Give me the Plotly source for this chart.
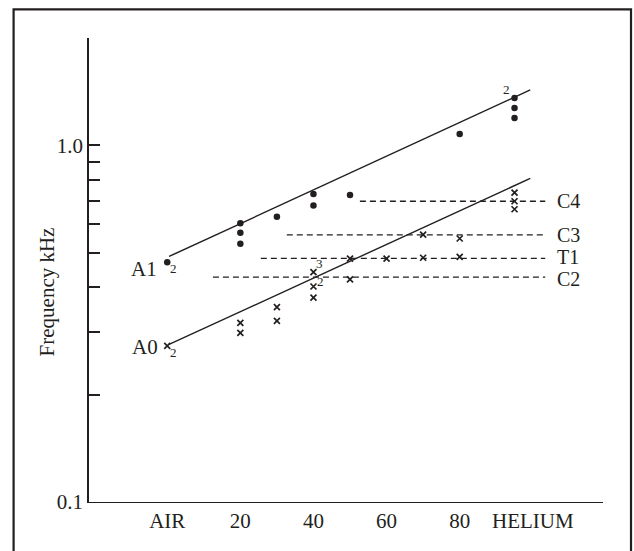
import math
import plotly.graph_objects as go

# ---- data ----
# A1 mode (dots): % helium vs frequency (kHz)
a1_x = [0, 20, 20, 20, 30, 40, 40, 50, 80, 95, 95, 95]
a1_f = [0.470, 0.605, 0.569, 0.530, 0.631, 0.731, 0.678, 0.726, 1.076, 1.358, 1.273, 1.193]

# A0 mode (crosses)
a0_x = [0, 20, 20, 30, 30, 40, 40, 40, 50, 50, 60, 70, 70, 80, 80, 95, 95, 95]
a0_f = [0.274, 0.318, 0.298, 0.352, 0.322, 0.441, 0.402, 0.374, 0.481, 0.421,
        0.481, 0.484, 0.562, 0.487, 0.548, 0.737, 0.697, 0.662]

# fitted lines (end points)
a1_line_x = [0.5, 99.3]
a1_line_f = [0.488, 1.430]
a0_line_x = [0.5, 99.3]
a0_line_f = [0.2765, 0.808]

# horizontal resonance levels
res_names = ["C4", "C3", "T1", "C2"]
res_start = [52.7, 32.7, 25.6, 12.5]
res_end = [103.4, 103.4, 103.4, 103.4]
res_f = [0.697, 0.561, 0.482, 0.427]
res_shift = [0, 0, 1.5, -1.5]

# multiplicity labels on points
mult_text = ["2", "2", "3", "2", "2"]
mult_x = [1.8, 1.6, 41.6, 42.0, 92.9]
mult_f = [0.452, 0.262, 0.466, 0.415, 1.43]

# axis ticks
x_tickvals = [0, 20, 40, 60, 80, 100]
x_ticktext = ["AIR", "20", "40", "60", "80", "HELIUM"]
y_tickvals = [0.1, 0.2, 0.3, 0.4, 0.5, 0.6, 0.7, 0.8, 0.9, 1.0, 2.0]
y_ticktext = ["0.1", "", "", "", "", "", "", "", "", "1.0", ""]

INK = "#231f20"
FONT = "Liberation Serif"

fig = go.Figure()

fig.add_trace(go.Scatter(x=a1_line_x, y=a1_line_f, mode="lines",
                         line=dict(color=INK, width=1.4), showlegend=False))
fig.add_trace(go.Scatter(x=a0_line_x, y=a0_line_f, mode="lines",
                         line=dict(color=INK, width=1.4), showlegend=False))

for name, xs, xe, f, sh in zip(res_names, res_start, res_end, res_f, res_shift):
    fig.add_trace(go.Scatter(x=[xs, xe], y=[f, f], mode="lines",
                             line=dict(color=INK, width=1.3, dash="6px,4px"),
                             showlegend=False))
    fig.add_annotation(x=106.2, y=math.log10(f), text=name, showarrow=False,
                       xanchor="left", yanchor="middle", yshift=sh,
                       font=dict(family=FONT, size=20, color=INK))

fig.add_trace(go.Scatter(x=a1_x, y=a1_f, mode="markers",
                         marker=dict(symbol="circle", size=6.5, color=INK),
                         showlegend=False))
fig.add_trace(go.Scatter(x=a0_x, y=a0_f, mode="markers",
                         marker=dict(symbol="x-thin-open", size=6, color=INK,
                                     line=dict(color=INK, width=1.7)),
                         showlegend=False))

for t, x, f in zip(mult_text, mult_x, mult_f):
    fig.add_annotation(x=x, y=math.log10(f), text=t, showarrow=False,
                       xanchor="center", yanchor="middle",
                       font=dict(family=FONT, size=13, color=INK))

# mode labels
fig.add_annotation(x=-2.3, y=math.log10(0.451), text="A1", showarrow=False,
                   xanchor="right", yanchor="middle",
                   font=dict(family=FONT, size=21, color=INK))
fig.add_annotation(x=-1.9, y=math.log10(0.2718), text="A0", showarrow=False,
                   xanchor="right", yanchor="middle",
                   font=dict(family=FONT, size=21, color=INK))

# y-axis title
fig.add_annotation(xref="paper", yref="paper", x=-0.0814, y=0.452,
                   text="Frequency kHz", textangle=-90, showarrow=False,
                   xanchor="center", yanchor="middle",
                   font=dict(family=FONT, size=21, color=INK))

# outer frame (open at bottom)
fig.add_shape(type="path", xref="paper", yref="paper",
              path="M -0.1467,-0.15 L -0.1467,1.0619 L 1.0545,1.0619 L 1.0545,-0.15",
              line=dict(color=INK, width=2.2))

fig.update_layout(
    width=634, height=551,
    margin=dict(l=89, r=31, t=38, b=49),
    paper_bgcolor="white", plot_bgcolor="white",
    font=dict(family=FONT, size=21, color=INK),
    xaxis=dict(range=[-21.4, 119.2], showline=True, linecolor=INK, linewidth=1.3,
               ticks="", tickvals=x_tickvals, ticktext=x_ticktext,
               showgrid=False, zeroline=False,
               tickfont=dict(family=FONT, size=21, color=INK)),
    yaxis=dict(type="log", range=[-1, math.log10(2.0)], showline=True,
               linecolor=INK, linewidth=1.6, ticks="inside", ticklen=11,
               tickwidth=1.6, tickcolor=INK, tickvals=y_tickvals,
               ticktext=y_ticktext, showgrid=False, zeroline=False,
               tickfont=dict(family=FONT, size=21, color=INK)),
)

fig.write_html("out.html",
               config={"displayModeBar": False},
               post_script="document.body.style.margin='0px';document.body.style.overflow='hidden';")
